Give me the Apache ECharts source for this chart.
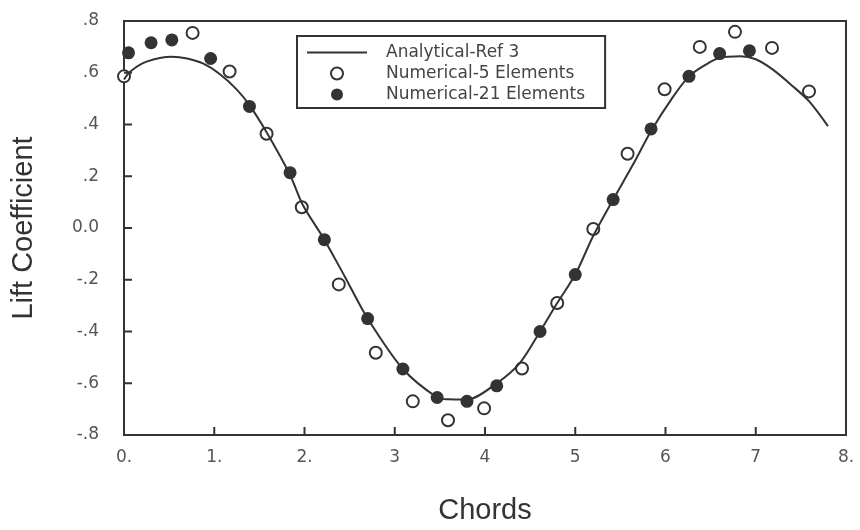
<!DOCTYPE html>
<html>
<head>
<meta charset="utf-8">
<script src="https://cdn.jsdelivr.net/npm/echarts@6/dist/echarts.min.js"></script>
<style>
  html, body { margin: 0; background: #fff; }
  #chart { width: 860px; height: 530px; }
</style>
</head>
<body>
<div id="chart"></div>
<script>
const xTickLabels = ["0.", "1.", "2.", "3", "4", "5", "6", "7", "8."];
const yTickLabels = ["-.8", "-.6", "-.4", "-.2", "0.0", ".2", ".4", ".6", ".8"];
// inner tick marks (ends are covered by the frame)
const xTickValues = [1, 2, 3, 4, 5, 6, 7];
const yTickValues = [-0.6, -0.4, -0.2, 0, 0.2, 0.4, 0.6];

// Analytical-Ref 3 curve
const analyticalX = [0, 0.07, 0.25, 0.53, 0.70, 0.88, 1.06, 1.25, 1.39, 1.58, 1.84, 1.98, 2.22, 2.45, 2.70, 3.09, 3.47, 3.59, 3.80, 4.13, 4.39, 4.61, 4.80, 5.0, 5.2, 5.42, 5.64, 5.84, 6.07, 6.26, 6.45, 6.60, 6.83, 7.0, 7.19, 7.41, 7.59, 7.80];
const analyticalY = [0.574, 0.605, 0.643, 0.662, 0.655, 0.635, 0.595, 0.535, 0.475, 0.37, 0.205, 0.09, -0.045, -0.19, -0.35, -0.545, -0.655, -0.662, -0.663, -0.60, -0.52, -0.40, -0.29, -0.18, -0.03, 0.11, 0.245, 0.375, 0.50, 0.586, 0.632, 0.658, 0.664, 0.652, 0.612, 0.548, 0.49, 0.394];

// Numerical - 5 elements (open circles)
const fiveX = [0.0, 0.76, 1.17, 1.58, 1.97, 2.38, 2.79, 3.20, 3.59, 3.99, 4.41, 4.80, 5.20, 5.58, 5.99, 6.38, 6.77, 7.18, 7.59];
const fiveY = [0.586, 0.754, 0.605, 0.364, 0.08, -0.218, -0.482, -0.67, -0.743, -0.697, -0.543, -0.29, -0.004, 0.287, 0.536, 0.70, 0.758, 0.696, 0.528];

// Numerical - 21 elements (filled circles)
const twentyOneX = [0.05, 0.30, 0.53, 0.96, 1.39, 1.84, 2.22, 2.70, 3.09, 3.47, 3.80, 4.13, 4.61, 5.0, 5.42, 5.84, 6.26, 6.60, 6.93];
const twentyOneY = [0.677, 0.716, 0.727, 0.655, 0.47, 0.214, -0.045, -0.35, -0.545, -0.655, -0.67, -0.61, -0.40, -0.18, 0.11, 0.383, 0.586, 0.674, 0.685];

const zip = (xs, ys) => xs.map((x, i) => [x, ys[i]]);

const ink = "#333";
const labelFont = { fontFamily: "DejaVu Sans", fontSize: 17, color: "#555" };
const tickLen = 8;

const chart = echarts.init(document.getElementById("chart"), null, { renderer: "canvas" });

// tick marks pointing into the plot, placed through the axis scales
function tickSeries(values, vertical) {
  return {
    type: "custom",
    silent: true,
    clip: false,
    z: 5,
    data: values.map((v) => (vertical ? [0, v] : [v, -0.8])),
    renderItem: (params, api) => {
      const p = api.coord([api.value(0), api.value(1)]);
      const shape = vertical
        ? { x1: p[0], y1: p[1], x2: p[0] + tickLen, y2: p[1] }
        : { x1: p[0], y1: p[1], x2: p[0], y2: p[1] - tickLen };
      return { type: "line", shape, style: { stroke: ink, lineWidth: 2 } };
    }
  };
}

chart.setOption({
  animation: false,
  backgroundColor: "#fff",
  grid: {
    left: 124, right: 14, top: 21, bottom: 91,
    show: true, borderColor: ink, borderWidth: 2, backgroundColor: "transparent"
  },
  legend: {
    left: 297, top: 36,
    orient: "vertical",
    itemWidth: 60, itemHeight: 12, itemGap: 4,
    padding: [8, 20, 5, 10],
    borderColor: ink, borderWidth: 2,
    textStyle: { fontFamily: "DejaVu Sans", fontSize: 17, color: "#444", padding: [0, 0, 0, 14] },
    data: [
      { name: "Analytical-Ref 3", icon: "path://M0,0L60,0L60,2L0,2Z" },
      { name: "Numerical-5 Elements" },
      { name: "Numerical-21 Elements" }
    ]
  },
  xAxis: {
    type: "value", min: 0, max: 8, interval: 1,
    name: "Chords", nameLocation: "middle", nameGap: 61,
    nameTextStyle: { fontFamily: "Liberation Sans", fontSize: 29, color: ink },
    axisLine: { show: true, onZero: false, lineStyle: { color: ink, width: 2 } },
    axisTick: { show: false },
    splitLine: { show: false },
    axisLabel: Object.assign({ margin: 14, formatter: (v) => xTickLabels[Math.round(v)] }, labelFont)
  },
  yAxis: {
    type: "value", min: -0.8, max: 0.8, interval: 0.2,
    name: "Lift Coefficient", nameLocation: "middle", nameGap: 86,
    nameTextStyle: { fontFamily: "Liberation Sans", fontSize: 29, color: ink },
    axisLine: { show: true, onZero: false, lineStyle: { color: ink, width: 2 } },
    axisTick: { show: false },
    splitLine: { show: false },
    axisLabel: Object.assign({ margin: 25, formatter: (v) => yTickLabels[Math.round(v * 5) + 4] }, labelFont)
  },
  series: [
    tickSeries(xTickValues, false),
    tickSeries(yTickValues, true),
    {
      name: "Analytical-Ref 3",
      type: "line",
      data: zip(analyticalX, analyticalY),
      smooth: 0.3,
      symbol: "none",
      lineStyle: { color: ink, width: 2 },
      itemStyle: { color: ink }
    },
    {
      name: "Numerical-5 Elements",
      type: "scatter",
      data: zip(fiveX, fiveY),
      symbol: "circle",
      symbolSize: 12,
      itemStyle: { color: "#fff", borderColor: ink, borderWidth: 2, opacity: 1 }
    },
    {
      name: "Numerical-21 Elements",
      type: "scatter",
      data: zip(twentyOneX, twentyOneY),
      symbol: "circle",
      symbolSize: 13,
      itemStyle: { color: ink, opacity: 1 }
    }
  ]
});
</script>
</body>
</html>
